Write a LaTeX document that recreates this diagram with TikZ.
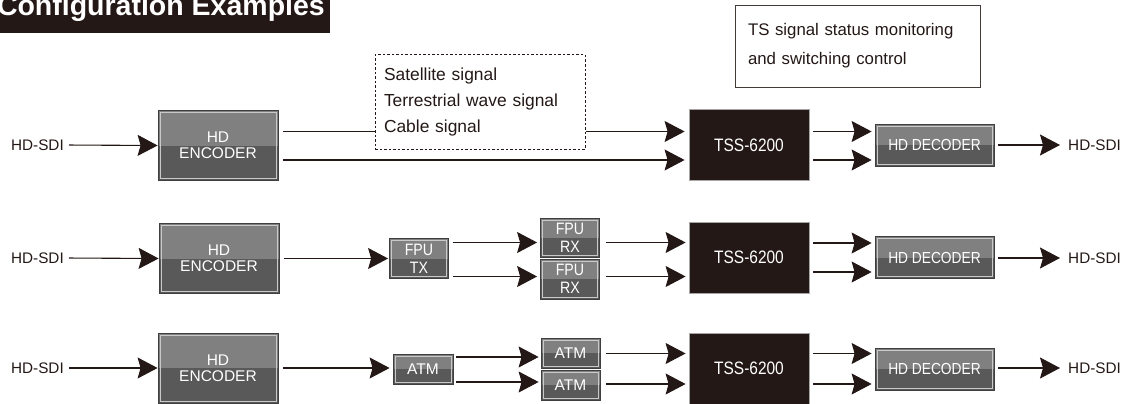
\documentclass[tikz,border=0pt]{standalone}
\usepackage{fontspec}
\setmainfont{Liberation Sans}
\newfontfamily\condsans[FakeStretch=0.86]{Liberation Sans}
\usetikzlibrary{arrows.meta,calc}
\definecolor{ink}{HTML}{231815}
\definecolor{topg}{HTML}{808080}
\definecolor{botg}{HTML}{595959}
\definecolor{edgeg}{HTML}{3F3F3F}
\definecolor{inng}{HTML}{C9C9C9}
\tikzset{
  gbox/.style={draw=edgeg, line width=0.8pt, fill=botg, text=white, inner sep=0pt, align=center,
    path picture={
      \fill[topg] (path picture bounding box.north west) rectangle (path picture bounding box.east);
      \draw[inng, line width=0.6pt] ([shift={(2pt,-2pt)}]path picture bounding box.north west)
        rectangle ([shift={(-2pt,2pt)}]path picture bounding box.south east);
    }},
  encbox/.style={gbox, minimum width=120pt, minimum height=70pt, font=\fontsize{15.5}{16}\selectfont},
  decbox/.style={gbox, minimum width=119pt, minimum height=42pt, font=\condsans\fontsize{16}{16}\selectfont},
  fpubox/.style={gbox, minimum width=59pt, minimum height=40pt, font=\condsans\fontsize{16.5}{18}\selectfont},
  atmbox/.style={gbox, minimum width=59pt, minimum height=30pt, font=\fontsize{15.5}{15.5}\selectfont},
  tssbox/.style={draw=gray!70, line width=0.8pt, fill=ink, text=white, inner sep=0pt,
    minimum width=120pt, minimum height=71pt, font=\condsans\fontsize{18}{18}\selectfont},
  lbl/.style={text=ink, inner sep=0pt, font=\fontsize{15.3}{15.3}\selectfont},
  ln/.style={draw=ink, line width=1.1pt},
  arr/.style={ln, -{Stealth[length=20pt,width=21pt,inset=3pt]}},
}
\begin{document}
\begin{tikzpicture}[x=1pt,y=-1pt]
\useasboundingbox (0,0) rectangle (1125,404);
\clip (0,0) rectangle (1125,404);

% title
\node (titlebar) [fill=ink, anchor=north west, minimum width=330pt, minimum height=33pt, inner sep=0pt] at (0,0) {};
\node (title) [text=white, font=\bfseries\fontsize{28.5}{28.5}\selectfont, anchor=base east, inner sep=0pt] at (325,15.5) {Configuration Examples};

% annotation boxes
\node (note) [draw=ink!85, line width=0.8pt, minimum width=245pt, minimum height=82pt, text width=219pt,
  inner sep=13pt, align=left, text=ink, font=\fontsize{16.8}{29}\selectfont] at (857.5,46)
  {TS signal status monitoring\\and switching control};
\node (dash) [draw=ink, line width=1pt, dash pattern=on 2.5pt off 2pt, minimum width=210pt, minimum height=94pt,
  text width=192pt, inner sep=9pt, align=left, text=ink, font=\fontsize{17.4}{26}\selectfont] at (480,102)
  {Satellite signal\\Terrestrial wave signal\\Cable signal};

% ---------- row 1
\node (sdi1) [lbl, anchor=east] at (64,145) {HD-SDI};
\node (enc1) [encbox] at (218,145.5) {HD\\ENCODER};
\node (tss1) [tssbox] at (749,145) {TSS-6200};
\node (dec1) [decbox] at (934.5,145) {HD DECODER};
\node (out1) [lbl, anchor=west] at (1068,145) {HD-SDI};
\coordinate (r1a) at (0,131.5);
\coordinate (r1b) at (0,160);
\draw[arr, shorten <=5pt] (sdi1.east) -- (enc1.west);
\draw[ln, shorten <=5pt] (enc1.east |- r1a) -- (dash.west |- r1a);
\draw[arr, shorten >=4pt] (dash.east |- r1a) -- (tss1.west |- r1a);
\draw[arr, shorten <=5pt, shorten >=4pt] (enc1.east |- r1b) -- (tss1.west |- r1b);
\draw[arr, shorten <=4pt, shorten >=3pt] (tss1.east |- r1a) -- (dec1.west |- r1a);
\draw[arr, shorten <=4pt, shorten >=3pt] (tss1.east |- r1b) -- (dec1.west |- r1b);
\draw[arr, shorten <=4pt, shorten >=8pt] (dec1.east) -- (out1.west);

% ---------- row 2
\node (sdi2) [lbl, anchor=east] at (64,258) {HD-SDI};
\node (enc2) [encbox] at (219,258.5) {HD\\ENCODER};
\node (fputx) [fpubox] at (419,258.5) {FPU\\TX};
\node (fpurx1) [fpubox, minimum height=39pt] at (570,237.5) {FPU\\RX};
\node (fpurx2) [fpubox] at (570,279) {FPU\\RX};
\node (tss2) [tssbox] at (749,257.5) {TSS-6200};
\node (dec2) [decbox] at (934.5,257.5) {HD DECODER};
\node (out2) [lbl, anchor=west] at (1068,258) {HD-SDI};
\coordinate (r2a) at (0,242.5);
\coordinate (r2b) at (0,276.5);
\coordinate (r2c) at (0,243);
\coordinate (r2d) at (0,272);
\draw[arr, shorten <=5pt] (sdi2.east) -- (enc2.west);
\draw[arr, shorten <=5pt, shorten >=1pt] (enc2.east |- fputx.west) -- (fputx.west);
\draw[arr, shorten <=4pt, shorten >=3pt] (fputx.east |- r2a) -- (fpurx1.west |- r2a);
\draw[arr, shorten <=4pt, shorten >=3pt] (fputx.east |- r2b) -- (fpurx2.west |- r2b);
\draw[arr, shorten <=6pt, shorten >=3pt] (fpurx1.east |- r2a) -- (tss2.west |- r2a);
\draw[arr, shorten <=6pt, shorten >=3pt] (fpurx2.east |- r2b) -- (tss2.west |- r2b);
\draw[arr, shorten <=4pt, shorten >=3pt] (tss2.east |- r2c) -- (dec2.west |- r2c);
\draw[arr, shorten <=4pt, shorten >=3pt] (tss2.east |- r2d) -- (dec2.west |- r2d);
\draw[arr, shorten <=4pt, shorten >=8pt] (dec2.east |- out2.west) -- (out2.west);

% ---------- row 3
\node (sdi3) [lbl, anchor=east] at (64,368) {HD-SDI};
\node (enc3) [encbox] at (218,368) {HD\\ENCODER};
\node (atm1) [atmbox, minimum width=60pt] at (423,369) {ATM};
\node (atm2) [atmbox] at (570.5,353) {ATM};
\node (atm3) [atmbox] at (570.5,385) {ATM};
\node (tss3) [tssbox] at (749,368.5) {TSS-6200};
\node (dec3) [decbox] at (934.5,369) {HD DECODER};
\node (out3) [lbl, anchor=west] at (1068,368) {HD-SDI};
\coordinate (r3a) at (0,357);
\coordinate (r3b) at (0,382);
\coordinate (r3c) at (0,353.5);
\coordinate (r3d) at (0,384);
\draw[arr, shorten <=5pt] (sdi3.east) -- (enc3.west);
\draw[arr, shorten <=5pt, shorten >=3pt] (enc3.east |- sdi3.east) -- (atm1.west |- sdi3.east);
\draw[arr, shorten <=3pt, shorten >=2pt] (atm1.east |- r3a) -- (atm2.west |- r3a);
\draw[arr, shorten <=3pt, shorten >=2pt] (atm1.east |- r3b) -- (atm3.west |- r3b);
\draw[arr, shorten <=6pt, shorten >=3pt] (atm2.east |- r3c) -- (tss3.west |- r3c);
\draw[arr, shorten <=6pt, shorten >=3pt] (atm3.east |- r3d) -- (tss3.west |- r3d);
\draw[arr, shorten <=4pt, shorten >=3pt] (tss3.east |- r3c) -- (dec3.west |- r3c);
\draw[arr, shorten <=4pt, shorten >=3pt] (tss3.east |- r3d) -- (dec3.west |- r3d);
\draw[arr, shorten <=4pt, shorten >=8pt] (dec3.east |- out3.west) -- (out3.west);
\end{tikzpicture}
\end{document}
